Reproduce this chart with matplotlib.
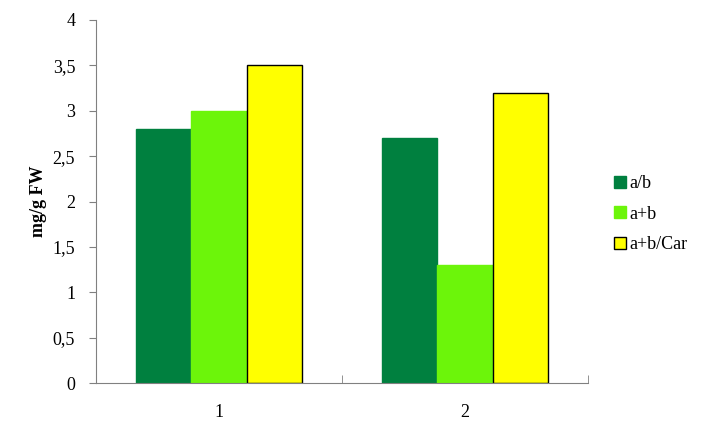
import numpy as np
import matplotlib.pyplot as plt

plt.rcParams['font.family'] = ['Liberation Serif', 'DejaVu Serif']

categories = ['1', '2']
series = ['a/b', 'a+b', 'a+b/Car']
values = [
    [2.8, 2.7],
    [3.0, 1.3],
    [3.5, 3.2],
]
colors = ['#00803F', '#6CF50A', '#FFFF00']
edges = ['#00803F', '#6CF50A', '#000000']
yticks = [0, 0.5, 1, 1.5, 2, 2.5, 3, 3.5, 4]
ytick_labels = ['0', '0,5', '1', '1,5', '2', '2,5', '3', '3,5', '4']

fig = plt.figure(figsize=(7.17, 4.29), dpi=100)
ax = fig.add_axes([96 / 717, 1 - 383 / 429, (588 - 96) / 717, (383 - 20) / 429])

x = np.arange(len(categories))
w = 0.224
for i, name in enumerate(series):
    ax.bar(x + (i - 1) * w, values[i], w, color=colors[i], edgecolor=edges[i],
           linewidth=1.0, label=name)

ax.set_xlim(-0.5, 1.5)
ax.set_ylim(0, 4)
ax.set_yticks(yticks)
ax.set_yticklabels(ytick_labels)
ax.set_xticks(x)
ax.set_xticklabels(categories)
ax.set_xticks([0.5, 1.5], minor=True)
ax.tick_params(axis='x', which='major', length=0, pad=15, labelsize=13)
ax.tick_params(axis='x', which='minor', direction='in', length=6, color='#808080')
ax.tick_params(axis='y', direction='out', length=5, color='#808080', pad=10, labelsize=13)

for s in ['top', 'right']:
    ax.spines[s].set_visible(False)
for s in ['left', 'bottom']:
    ax.spines[s].set_color('#808080')

ax.set_ylabel('mg/g FW', fontweight='bold', fontsize=13, labelpad=4)

handles = [plt.Line2D([], [], marker='s', linestyle='', markersize=8,
                      markerfacecolor=colors[i], markeredgecolor=edges[i] if i == 2 else colors[i])
           for i in range(3)]
fig.legend(handles, series, loc='upper left', bbox_to_anchor=(605 / 717, 1 - 166 / 429),
           frameon=False, fontsize=13, handlelength=0.7, handletextpad=0.15,
           labelspacing=0.75, borderpad=0)

fig.savefig('out.png', dpi=100)
